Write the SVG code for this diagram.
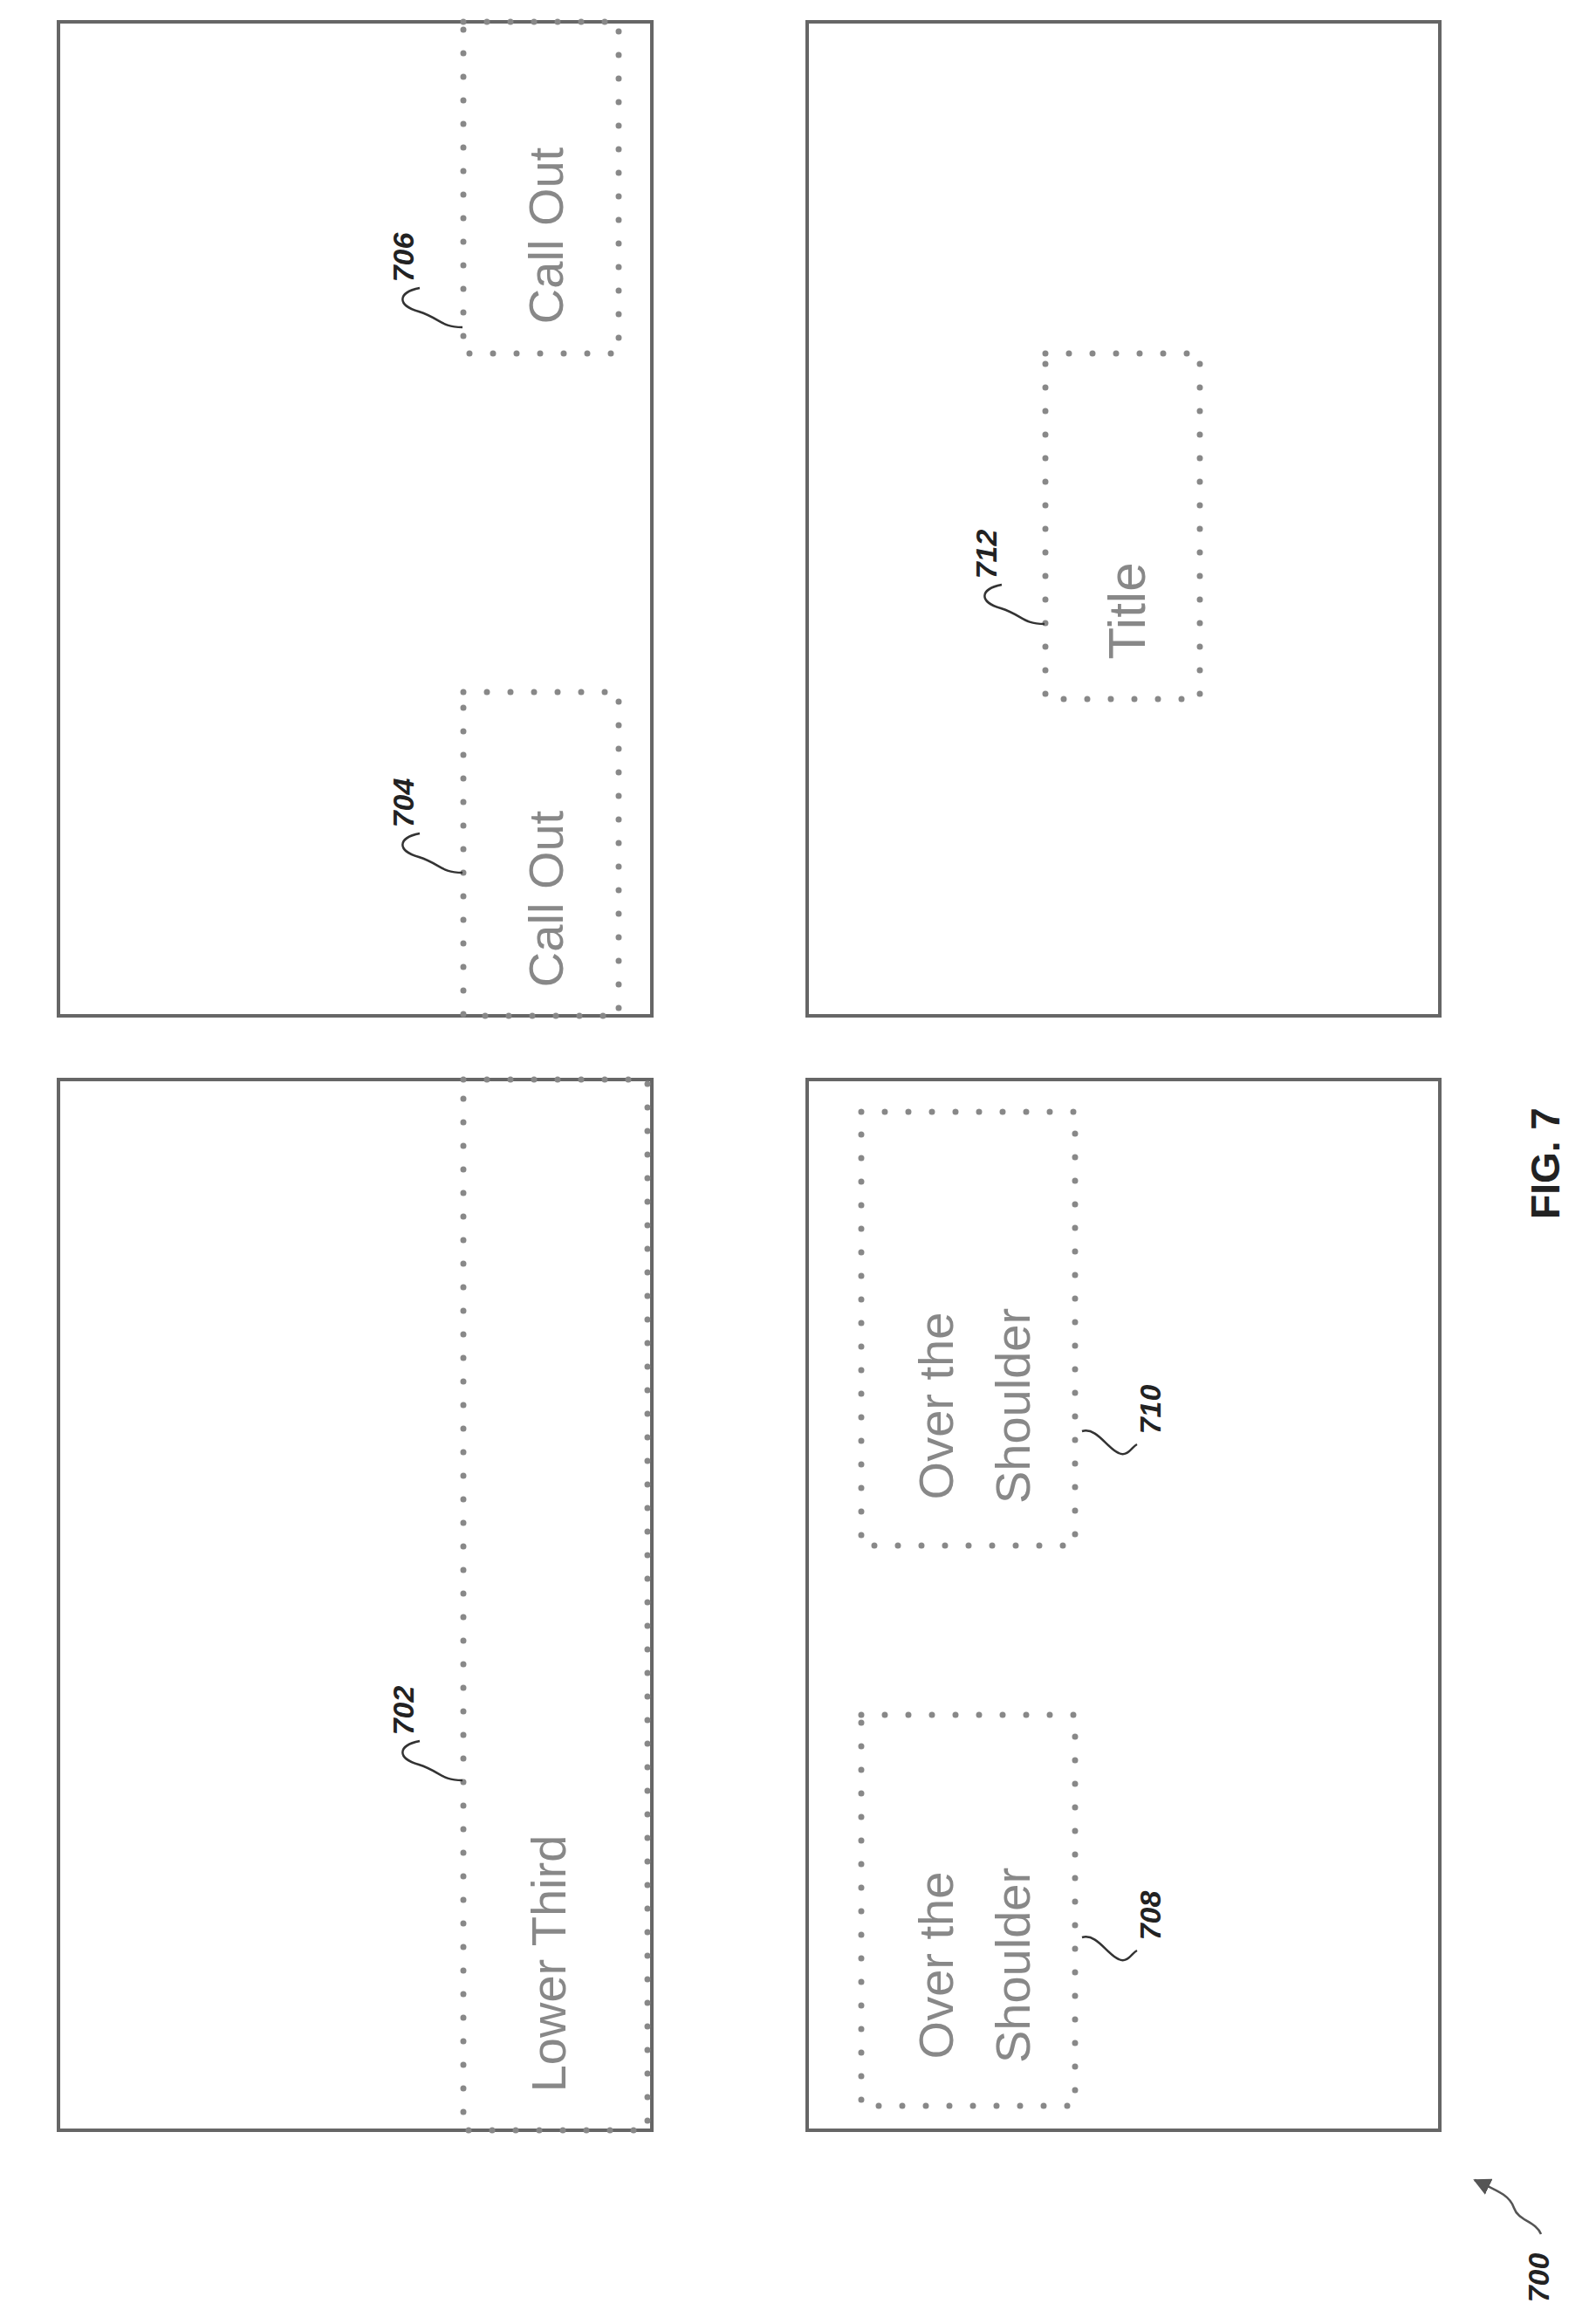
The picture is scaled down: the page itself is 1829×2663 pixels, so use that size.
<svg xmlns="http://www.w3.org/2000/svg" width="1829" height="2663" viewBox="0 0 1829 2663">
<style>
.panel{fill:none;stroke:#666;stroke-width:4}
.dot{fill:none;stroke:#888;stroke-width:7;stroke-linecap:round;stroke-dasharray:0 27}
.lbl{font-family:"Liberation Sans",Arial,sans-serif;font-size:56px;fill:#888;text-anchor:middle;dominant-baseline:central}
.num{font-family:"Liberation Sans",Arial,sans-serif;font-size:34px;font-weight:bold;font-style:italic;fill:#222;text-anchor:middle;dominant-baseline:central}
.sq{fill:none;stroke:#333;stroke-width:2.5}
</style>
<defs><marker id="ah" viewBox="0 0 10 10" refX="9" refY="5" markerWidth="8" markerHeight="8" orient="auto"><path d="M0 0L10 5L0 10z" fill="#555"/></marker></defs>
<g id="panelA"><rect class="panel" x="67" y="25" width="680" height="1139"/></g>
<g id="panelB"><rect class="panel" x="925" y="25" width="725" height="1139"/></g>
<g id="panelC"><rect class="panel" x="67" y="1237" width="680" height="1204"/></g>
<g id="panelD"><rect class="panel" x="925" y="1237" width="725" height="1204"/></g>
<g id="n704"><rect class="dot" x="531" y="793" width="178" height="371"/>
<text class="lbl" transform="translate(625 1030) rotate(-90)">Call Out</text>
<text class="num" transform="translate(462 920) rotate(-90)">704</text></g>
<g id="n706"><rect class="dot" x="531" y="25" width="178" height="380"/>
<text class="lbl" transform="translate(625 270) rotate(-90)">Call Out</text>
<text class="num" transform="translate(462 295) rotate(-90)">706</text></g>
<g id="n712"><rect class="dot" x="1198" y="405" width="177" height="396"/>
<text class="lbl" transform="translate(1291 700) rotate(-90)" style="font-size:60px">Title</text>
<text class="num" transform="translate(1130 635) rotate(-90)">712</text></g>
<g id="n702"><rect class="dot" x="531" y="1237" width="211" height="1204"/>
<text class="lbl" transform="translate(628 2250) rotate(-90)">Lower Third</text>
<text class="num" transform="translate(462 1960) rotate(-90)">702</text></g>
<g id="n708"><rect class="dot" x="987" y="1965" width="245" height="448"/>
<text class="lbl" transform="translate(1072 2252) rotate(-90)">Over the</text>
<text class="lbl" transform="translate(1160 2252) rotate(-90)">Shoulder</text>
<text class="num" transform="translate(1318 2195) rotate(-90)">708</text></g>
<g id="n710"><rect class="dot" x="987" y="1274" width="245" height="497"/>
<text class="lbl" transform="translate(1072 1611) rotate(-90)">Over the</text>
<text class="lbl" transform="translate(1160 1611) rotate(-90)">Shoulder</text>
<text class="num" transform="translate(1318 1615) rotate(-90)">710</text></g>
<g id="connectors">
<path class="sq" d="M481 955 C455 960 455 975 480 982 C505 990 505 1000 530 1000"/>
<path class="sq" d="M481 330 C455 335 455 350 480 357 C505 365 505 375 530 375"/>
<path class="sq" d="M1148 670 C1122 675 1122 690 1147 697 C1172 705 1172 715 1197 715"/>
<path class="sq" d="M481 1995 C455 2000 455 2015 480 2022 C505 2030 505 2040 530 2040"/>
<path class="sq" d="M1240 2220 C1257 2215 1269 2240 1282 2245 C1292 2250 1297 2238 1303 2235"/>
<path class="sq" d="M1240 1640 C1257 1635 1269 1660 1282 1665 C1292 1670 1297 1658 1303 1655"/>
<path d="M1766 2560 C1760 2545 1740 2545 1735 2530 C1730 2515 1715 2510 1690 2498" fill="none" stroke="#555" stroke-width="2.5" marker-end="url(#ah)"/>
</g>
<text class="num" transform="translate(1763 2610) rotate(-90)">700</text>
<text font-family="Liberation Sans,Arial,sans-serif" font-size="46" font-weight="bold" fill="#222" text-anchor="middle" dominant-baseline="central" transform="translate(1771 1333) rotate(-90)">FIG. 7</text>
</svg>
